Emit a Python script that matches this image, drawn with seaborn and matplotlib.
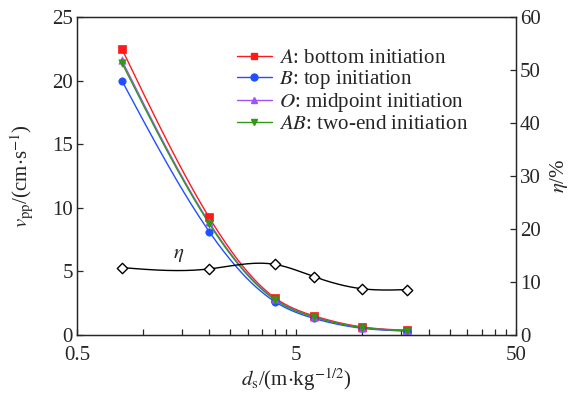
import numpy as np
import pandas as pd
import matplotlib
matplotlib.use("Agg")
import matplotlib.pyplot as plt
from matplotlib.lines import Line2D
from matplotlib.ticker import FixedLocator, NullFormatter
import seaborn as sns

# ---------------- data ----------------
ds = [0.8, 2.0, 4.0, 6.0, 10.0, 16.0]
v_A = [22.5, 9.24, 2.9, 1.5, 0.62, 0.36]
v_B = [20.0, 8.13, 2.6, 1.3, 0.52, 0.30]
v_O = [21.6, 8.85, 2.8, 1.42, 0.58, 0.34]
v_AB = [21.4, 8.75, 2.75, 1.4, 0.57, 0.33]
eta = [12.7, 12.45, 13.3, 11.0, 8.7, 8.55]

series_names = ["A", "B", "O", "AB"]
series_labels = ["$A$: bottom initiation", "$B$: top initiation",
                 "$O$: midpoint initiation", "$AB$: two-end initiation"]
series_vals = [v_A, v_B, v_O, v_AB]
series_colors = ["#ff1a1a", "#1f4fff", "#a050ff", "#2e9a10"]
series_markers = ["s", "o", "^", "v"]

x_major = [0.5, 5, 50]
x_major_labels = ["0.5", "5", "50"]
x_minor = [1, 1.5, 2, 2.5, 3, 3.5, 4, 4.5, 10, 15, 20, 25, 30, 35, 40, 45]
yl_ticks = [0, 5, 10, 15, 20, 25]
yr_ticks = [0, 10, 20, 30, 40, 50, 60]


def natural_spline(x, y, xs):
    x = np.asarray(x, float); y = np.asarray(y, float)
    n = len(x); h = np.diff(x)
    A = np.zeros((n, n)); r = np.zeros(n)
    A[0, 0] = 1; A[-1, -1] = 1
    for i in range(1, n - 1):
        A[i, i - 1] = h[i - 1]; A[i, i] = 2 * (h[i - 1] + h[i]); A[i, i + 1] = h[i]
        r[i] = 6 * ((y[i + 1] - y[i]) / h[i] - (y[i] - y[i - 1]) / h[i - 1])
    M = np.linalg.solve(A, r)
    idx = np.clip(np.searchsorted(x, xs) - 1, 0, n - 2)
    x0 = x[idx]; x1 = x[idx + 1]; hh = h[idx]
    return (M[idx] * (x1 - xs) ** 3 / (6 * hh) + M[idx + 1] * (xs - x0) ** 3 / (6 * hh)
            + (y[idx] / hh - M[idx] * hh / 6) * (x1 - xs)
            + (y[idx + 1] / hh - M[idx + 1] * hh / 6) * (xs - x0))


sns.set_style("ticks")
plt.rcParams["font.family"] = ["Liberation Serif", "DejaVu Serif"]
plt.rcParams["mathtext.fontset"] = "stix"
plt.rcParams["font.size"] = 11.5
plt.rcParams["xtick.direction"] = "in"
plt.rcParams["ytick.direction"] = "in"

fig = plt.figure(figsize=(5.77, 3.94), dpi=100)
ax = fig.add_axes([0.1335, 0.150, 0.7605, 0.807])

lx = np.log10(ds)
xs_log = np.linspace(lx[0], lx[-1], 300)
xs = 10 ** xs_log

for name, vals, col, mk in zip(series_names, series_vals, series_colors, series_markers):
    curve = pd.DataFrame({"x": xs, "y": natural_spline(lx, vals, xs_log)})
    sns.lineplot(data=curve, x="x", y="y", ax=ax, color=col, lw=1.0, sort=False)
    pts = pd.DataFrame({"x": ds, "y": vals})
    sns.scatterplot(data=pts, x="x", y="y", ax=ax, color=col, marker=mk, s=28,
                    edgecolor=col, linewidth=0.5, zorder=3)

ax.set_xscale("log")
ax.set_xlim(0.5, 50)
ax.set_ylim(0, 25)
ax.xaxis.set_major_locator(FixedLocator(x_major))
ax.set_xticklabels(x_major_labels)
ax.xaxis.set_minor_locator(FixedLocator(x_minor))
ax.xaxis.set_minor_formatter(NullFormatter())
ax.set_yticks(yl_ticks)
ax.tick_params(axis="both", which="major", length=4, width=0.9, labelsize=15, pad=3)
ax.tick_params(axis="x", which="minor", length=4, width=0.9)
ax.tick_params(axis="x", which="major", pad=8)
for sp in ax.spines.values():
    sp.set_linewidth(1.0)
ax.set_xlabel(r"$d_{\mathrm{s}}$/(m$\cdot$kg$^{-1/2}$)", fontsize=15, labelpad=1)
ax.set_ylabel(r"$v_{\mathrm{pp}}$/(cm$\cdot$s$^{-1}$)", fontsize=15, labelpad=12)

ax2 = ax.twinx()
curve = pd.DataFrame({"x": xs, "y": natural_spline(lx, eta, xs_log)})
sns.lineplot(data=curve, x="x", y="y", ax=ax2, color="black", lw=1.0, sort=False)
pts = pd.DataFrame({"x": ds, "y": eta})
sns.scatterplot(data=pts, x="x", y="y", ax=ax2, marker="D", s=28, facecolor="white",
                edgecolor="black", linewidth=1.0, zorder=3)
ax2.set_ylim(0, 60)
ax2.set_yticks(yr_ticks)
ax2.tick_params(axis="y", which="major", length=4, width=0.9, labelsize=15, pad=3)
ax2.set_ylabel(r"$\eta$/%", fontsize=15, labelpad=5)
ax2.set_xlabel("")

ax.text(1.45, 6.3, r"$\eta$", fontsize=15, ha="center", va="center")

handles = [Line2D([0], [0], color=c, marker=m, lw=1.0, markersize=5)
           for c, m in zip(series_colors, series_markers)]
ax.legend(handles, series_labels, loc="upper left", bbox_to_anchor=(0.335, 0.94),
          frameon=False, fontsize=15.1, handlelength=1.7, handletextpad=0.3,
          labelspacing=0.0, borderaxespad=0.2)

fig.savefig("out.png", dpi=100)
